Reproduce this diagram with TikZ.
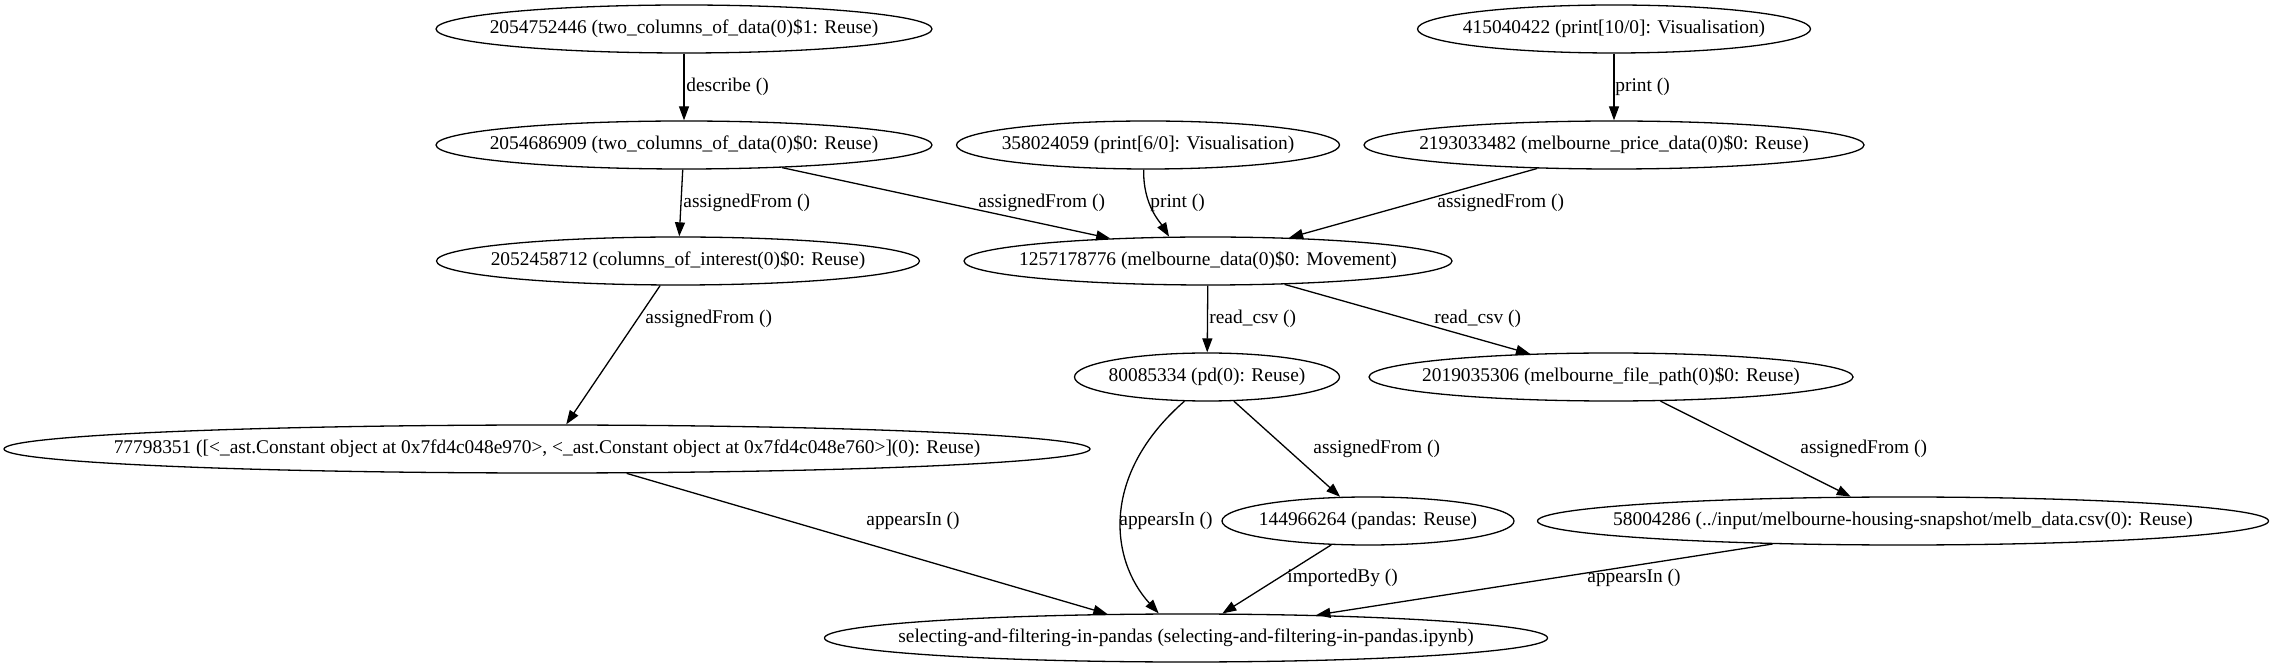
\documentclass[tikz,border=0pt]{standalone}
\usepackage{fontspec}
\setmainfont{Liberation Serif}
\usetikzlibrary{arrows.meta,shapes.geometric}

\begin{document}
\begin{tikzpicture}[
  x=0.5pt, y=-0.5pt,
  font=\fontsize{9.7}{11}\selectfont,
  obj/.style={draw, ellipse, line width=0.65pt, inner sep=0pt, minimum height=24pt},
  ar/.style={-{Triangle[length=7pt, width=5pt]}, line width=0.65pt},
  lbl/.style={anchor=west, inner sep=0pt}
]
\useasboundingbox (0,0) rectangle (2274,667);

\node[obj, minimum width=248pt]   (twocols1)  at (684,29)   {\makebox[0pt]{2054752446 (two\_columns\_of\_data(0)\$1: Reuse)}};
\node[obj, minimum width=248pt]   (twocols0)  at (684,145)  {\makebox[0pt]{2054686909 (two\_columns\_of\_data(0)\$0: Reuse)}};
\node[obj, minimum width=241.5pt] (colsint)   at (678,261)  {\makebox[0pt]{2052458712 (columns\_of\_interest(0)\$0: Reuse)}};
\node[obj, minimum width=191.5pt] (print6)    at (1148,145) {\makebox[0pt]{358024059 (print[6/0]: Visualisation)}};
\node[obj, minimum width=244pt]   (melbdata)  at (1208,261) {\makebox[0pt]{1257178776 (melbourne\_data(0)\$0: Movement)}};
\node[obj, minimum width=196.5pt] (print10)   at (1614,29)  {\makebox[0pt]{415040422 (print[10/0]: Visualisation)}};
\node[obj, minimum width=250pt]   (pricedata) at (1614,145) {\makebox[0pt]{2193033482 (melbourne\_price\_data(0)\$0: Reuse)}};
\node[obj, minimum width=132.5pt] (pd)        at (1207,377) {\makebox[0pt]{80085334 (pd(0): Reuse)}};
\node[obj, minimum width=242pt]   (filepath)  at (1611,377) {\makebox[0pt]{2019035306 (melbourne\_file\_path(0)\$0: Reuse)}};
\node[obj, minimum width=543pt]   (constlist) at (547,449)  {\makebox[0pt]{77798351 ([<\_ast.Constant object at 0x7fd4c048e970>, <\_ast.Constant object at 0x7fd4c048e760>](0): Reuse)}};
\node[obj, minimum width=146pt]   (pandas)    at (1368,521) {\makebox[0pt]{144966264 (pandas: Reuse)}};
\node[obj, minimum width=365.5pt] (csvpath)   at (1903,521) {\makebox[0pt]{58004286 (../input/melbourne-housing-snapshot/melb\_data.csv(0): Reuse)}};
\node[obj, minimum width=361.5pt] (notebook)  at (1186,638) {\makebox[0pt]{selecting-and-filtering-in-pandas (selecting-and-filtering-in-pandas.ipynb)}};

% edges
\draw[ar] (twocols1) -- (twocols0);
\draw[ar] (twocols0) -- (colsint);
\draw[ar] (twocols0.-13) -- (melbdata.167);
\draw[ar] (print6.-100) .. controls (1143,205) and (1160,222) .. (melbdata.148);
\draw[ar] (print10) -- (pricedata);
\draw[ar] (pricedata.197) -- (melbdata.16);
\draw[ar] (colsint.234) -- (constlist.52);
\draw[ar] (melbdata) -- (pd);
\draw[ar] (melbdata.-17) -- (filepath.164);
\draw[ar] (pd.227) .. controls (1100,475) and (1110,560) .. (notebook.138);
\draw[ar] (pd.-42) -- (pandas.139);
\draw[ar] (filepath.-26) -- (csvpath.155);
\draw[ar] (constlist.-17) -- (notebook.163);
\draw[ar] (pandas.213) -- (notebook.34);
\draw[ar] (csvpath.190) -- (notebook.10);

% labels
\node[lbl] (l-describe) at (686,87)   {describe ()};
\node[lbl] (l-af1)      at (683,203)  {assignedFrom ()};
\node[lbl] (l-af2)      at (978,203)  {assignedFrom ()};
\node[lbl] (l-print6)   at (1150,203) {print ()};
\node[lbl] (l-af3)      at (1437,203) {assignedFrom ()};
\node[lbl] (l-print10)  at (1615,87)  {print ()};
\node[lbl] (l-af4)      at (645,319)  {assignedFrom ()};
\node[lbl] (l-csv1)     at (1209,319) {read\_csv ()};
\node[lbl] (l-csv2)     at (1434,319) {read\_csv ()};
\node[lbl] (l-app1)     at (1119,521) {appearsIn ()};
\node[lbl] (l-af5)      at (1313,449) {assignedFrom ()};
\node[lbl] (l-af6)      at (1800,449) {assignedFrom ()};
\node[lbl] (l-app2)     at (866,521)  {appearsIn ()};
\node[lbl] (l-imp)      at (1287,578) {importedBy ()};
\node[lbl] (l-app3)     at (1587,578) {appearsIn ()};
\end{tikzpicture}
\end{document}
